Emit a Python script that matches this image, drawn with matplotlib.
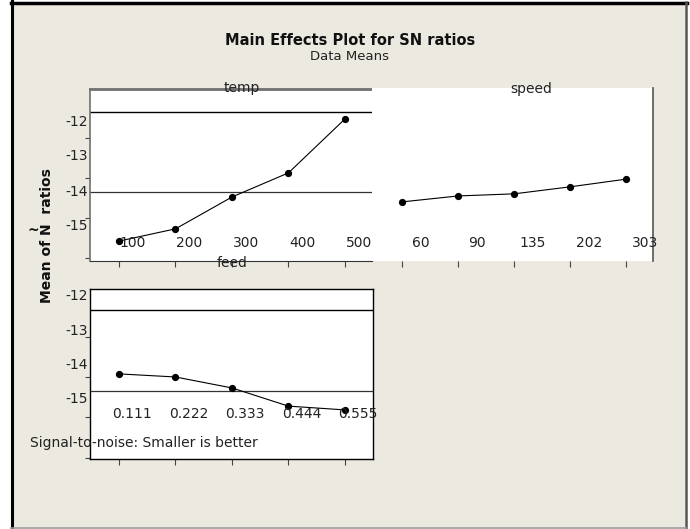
import matplotlib
matplotlib.use('Agg')
import matplotlib.pyplot as plt
from matplotlib.lines import Line2D
from matplotlib.patches import Rectangle
from matplotlib.ticker import FixedLocator
import numpy as np

W, H = 690, 529
BEIGE = '#ECE9E0'

# data
temp_levels = ['100', '200', '300', '400', '500']
temp_sn = [-15.46, -15.11, -14.20, -13.51, -11.97]
speed_levels = ['60', '90', '135', '202', '303']
speed_sn = [-14.34, -14.17, -14.11, -13.91, -13.69]
feed_levels = ['0.111', '0.222', '0.333', '0.444', '0.555']
feed_sn = [-14.30, -14.39, -14.71, -15.24, -15.35]
y_ticks = [-12, -13, -14, -15]
y_labels = ['-12', '-13', '-14', '-15']

plt.rcParams['font.family'] = ['DejaVu Sans']

fig = plt.figure(figsize=(W / 100, H / 100), dpi=100)
fig.patch.set_facecolor('white')


def fx(x):
    return x / W


def fy(y):
    return 1 - y / H


def box(x0, y0, x1, y1):
    return [fx(x0), fy(y1), (x1 - x0) / W, (y1 - y0) / H]


def px2val(p, ref_px, unit_px):
    # pixel row -> value, -12 sits at ref_px
    return -12 - (p - ref_px) / unit_px


# outer window
fig.add_artist(Rectangle((fx(12), fy(527)), (685 - 12) / W, (527 - 4) / H,
                         transform=fig.transFigure, facecolor=BEIGE,
                         edgecolor='none', zorder=-2))
fig.add_artist(Line2D([fx(11.5), fx(11.5)], [0, 1], transform=fig.transFigure,
                      color='black', lw=2.2, zorder=-1))
fig.add_artist(Line2D([fx(11), fx(687)], [fy(2.5), fy(2.5)], transform=fig.transFigure,
                      color='black', lw=2.5, zorder=-1))
fig.add_artist(Line2D([fx(685.5), fx(685.5)], [fy(2), fy(528)], transform=fig.transFigure,
                      color='#555555', lw=1.8, zorder=-1))
fig.add_artist(Line2D([fx(11), fx(686)], [fy(527.5), fy(527.5)], transform=fig.transFigure,
                      color='#9a9a9a', lw=1.2, zorder=-1))


def panel(rect, levels, values, xl, ref_px, unit_px, top_px, bot_px,
          minor_px, lbl_dx, lbl_y, show_y=True):
    ax = fig.add_axes(box(*rect))
    ax.set_facecolor('white')
    x = np.arange(len(levels))
    ax.plot(x, values, color='black', lw=0.8, marker='o', ms=4.2, zorder=3)
    ax.set_xlim(xl)
    ax.set_ylim(px2val(bot_px, ref_px, unit_px), px2val(top_px, ref_px, unit_px))
    ax.set_xticks(x)
    ax.set_xticklabels([])
    ax.tick_params(axis='x', length=4.5, width=0.8, direction='out', color='#444444')
    tr = ax.get_xaxis_transform()
    for i, lab in enumerate(levels):
        ax.text(i + lbl_dx, lbl_y, lab, transform=tr, ha='center', va='center',
                fontsize=10, color='#222222', zorder=4)
    if show_y:
        ax.set_yticks(y_ticks)
        ax.set_yticklabels(y_labels, fontsize=10, color='#222222')
        ax.tick_params(axis='y', which='major', length=0, pad=1.5)
        ax.yaxis.set_minor_locator(FixedLocator([px2val(p, ref_px, unit_px) for p in minor_px]))
        ax.tick_params(axis='y', which='minor', length=3.5, width=0.8,
                       direction='out', color='#444444')
    else:
        ax.set_yticks([])
    return ax


# temp panel
ax1 = panel((90, 89, 372, 261), temp_levels, temp_sn,
            (-0.513, 4.478), 120, 35, 89, 261,
            [138, 178, 218, 258], 14 / 56.5, 0.105)
ax1.spines['right'].set_visible(False)
ax1.spines['top'].set_color('#707070')
ax1.spines['top'].set_linewidth(2)
ax1.spines['left'].set_color('#707070')
ax1.spines['left'].set_linewidth(1.2)
ax1.spines['bottom'].set_color('#333333')
ax1.axhline(-11.77, color='black', lw=1)
ax1.axhline(np.mean(temp_sn), color='#333333', lw=0.9)

# speed panel
ax2 = panel((372, 88, 653, 261), speed_levels, speed_sn,
            (-0.536, 4.482), 120, 35, 88, 261,
            [], 19 / 56, 0.104, show_y=False)
for s in ['left', 'top', 'bottom']:
    ax2.spines[s].set_visible(False)
ax2.spines['right'].set_color('#555555')
ax2.spines['right'].set_linewidth(1.2)

# feed panel
ax3 = panel((90, 289, 373, 459), feed_levels, feed_sn,
            (-0.513, 4.496), 295, 34.3, 289, 459,
            [337, 377, 417, 458], 13 / 56.5, 0.265)
for s in ax3.spines.values():
    s.set_color('black')
    s.set_linewidth(1)
ax3.axhline(-12.44, color='black', lw=1)
ax3.axhline(np.mean(feed_sn), color='#333333', lw=0.9)

# texts
fig.text(fx(350), fy(40), 'Main Effects Plot for SN ratios', ha='center', va='center',
         fontsize=10.5, fontweight='bold', color='#111111')
fig.text(fx(350), fy(57), 'Data Means', ha='center', va='center', fontsize=9.5,
         color='#222222')
fig.text(fx(242), fy(88), 'temp', ha='center', va='center', fontsize=10, color='#222222')
fig.text(fx(531), fy(89), 'speed', ha='center', va='center', fontsize=10, color='#222222')
fig.text(fx(232), fy(263), 'feed', ha='center', va='center', fontsize=10, color='#222222')
fig.text(fx(47), fy(236), 'Mean of N  ratios', rotation=90, ha='center', va='center',
         fontsize=10, fontweight='bold', color='#111111')
fig.text(fx(33), fy(231), '~', ha='center', va='center', fontsize=10,
         fontweight='bold', color='#111111')
fig.text(fx(30), fy(443), 'Signal-to-noise: Smaller is better', ha='left', va='center',
         fontsize=10, color='#222222')

fig.savefig('out.png', dpi=100)
